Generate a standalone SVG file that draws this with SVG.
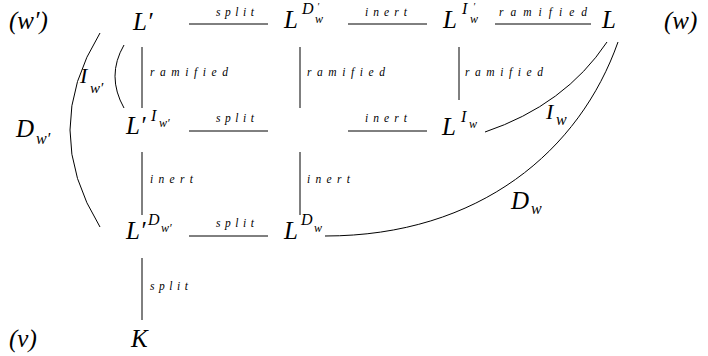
<svg xmlns="http://www.w3.org/2000/svg" width="708" height="356" viewBox="0 0 708 356">
<style>
text{font-family:"Liberation Serif","DejaVu Serif",serif;font-style:italic;fill:#000}
.m{font-size:25px}
.s{font-size:16px}
.ss{font-size:12px}
.pr{font-size:10px}
.lb{font-size:11.5px}
.e{stroke:#000;stroke-width:1;fill:none}
</style>
<rect width="708" height="356" fill="#fff"/>
<g id="connectors">
<line class="e" x1="189" y1="24" x2="268" y2="24"/>
<line class="e" x1="348" y1="24" x2="427" y2="24"/>
<line class="e" x1="495" y1="24" x2="591" y2="24"/>
<line class="e" x1="189" y1="131" x2="268" y2="131"/>
<line class="e" x1="348" y1="131" x2="427" y2="131"/>
<line class="e" x1="189" y1="236" x2="268" y2="236"/>
<line class="e" x1="142" y1="47" x2="142" y2="108"/>
<line class="e" x1="300" y1="47" x2="300" y2="108"/>
<line class="e" x1="459" y1="47" x2="459" y2="100"/>
<line class="e" x1="142" y1="152" x2="142" y2="215"/>
<line class="e" x1="300" y1="152" x2="300" y2="215"/>
<line class="e" x1="142" y1="258" x2="142" y2="320"/>
<path class="e" d="M100,33 Q40,130 100,227"/>
<path class="e" d="M124,45 Q106,76 124,108"/>
<path class="e" d="M607,42 Q565,105 485,132"/>
<path class="e" d="M618,42 C580,150 480,236 325,236"/>
<text class="lb" x="216" y="16" textLength="38" lengthAdjust="spacing">split</text>
<text class="lb" x="365" y="16" textLength="42" lengthAdjust="spacing">inert</text>
<text class="lb" x="499" y="16" textLength="88" lengthAdjust="spacing">ramified</text>
<text class="lb" x="150" y="76" textLength="78" lengthAdjust="spacing">ramified</text>
<text class="lb" x="307" y="76" textLength="78" lengthAdjust="spacing">ramified</text>
<text class="lb" x="465" y="76" textLength="78" lengthAdjust="spacing">ramified</text>
<text class="lb" x="216" y="122" textLength="38" lengthAdjust="spacing">split</text>
<text class="lb" x="365" y="122" textLength="42" lengthAdjust="spacing">inert</text>
<text class="lb" x="150" y="183" textLength="43" lengthAdjust="spacing">inert</text>
<text class="lb" x="307" y="183" textLength="43" lengthAdjust="spacing">inert</text>
<text class="lb" x="216" y="227" textLength="38" lengthAdjust="spacing">split</text>
<text class="lb" x="150" y="290" textLength="38" lengthAdjust="spacing">split</text>
<text x="80" y="83" style="font-size:22px">I</text>
<text x="90" y="93" style="font-size:15px">w′</text>
<text class="m" x="16" y="137">D</text>
<text x="36" y="144" style="font-size:16px">w′</text>
<text x="546" y="119" style="font-size:22px">I</text>
<text x="556" y="125" style="font-size:16px">w</text>
<text class="m" x="511" y="209">D</text>
<text x="531" y="214" style="font-size:16px">w</text>
</g>
<g id="tag-wp"><text class="m" x="9" y="29">(w′)</text></g>
<g id="tag-w"><text class="m" x="664" y="29">(w)</text></g>
<g id="tag-v"><text class="m" x="9" y="347">(v)</text></g>
<g id="Lp"><text class="m" x="133" y="30">L′</text></g>
<g id="LDwp"><text class="m" x="284" y="28">L</text><text class="s" x="302" y="14">D</text><text class="pr" x="317" y="10">′</text><text class="ss" x="315" y="23">w</text></g>
<g id="LIwp"><text class="m" x="443" y="28">L</text><text class="s" x="462" y="14">I</text><text class="pr" x="473" y="10">′</text><text class="ss" x="470" y="23">w</text></g>
<g id="L"><text class="m" x="602" y="28">L</text></g>
<g id="LpIwp"><text class="m" x="126" y="134">L′</text><text class="s" x="151" y="121">I</text><text class="ss" x="159" y="127">w′</text></g>
<g id="LIw"><text class="m" x="442" y="135">L</text><text class="s" x="461" y="122">I</text><text class="ss" x="469" y="128">w</text></g>
<g id="LpDwp"><text class="m" x="126" y="239">L′</text><text class="s" x="148" y="225">D</text><text class="ss" x="161" y="232">w′</text></g>
<g id="LDw"><text class="m" x="284" y="239">L</text><text class="s" x="301" y="225">D</text><text class="ss" x="314" y="232">w</text></g>
<g id="K"><text class="m" x="131" y="347">K</text></g>
</svg>
